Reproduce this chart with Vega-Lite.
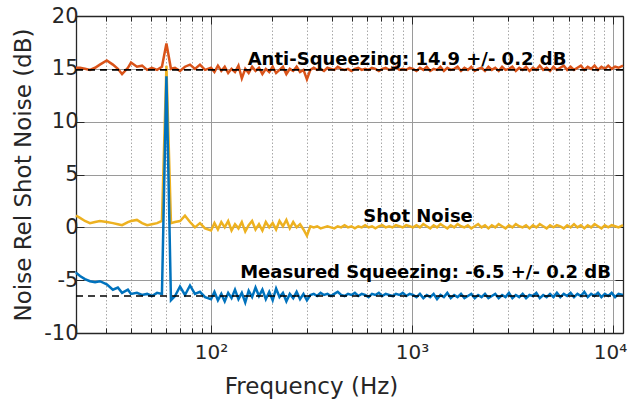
{
  "$schema": "https://vega.github.io/schema/vega-lite/v6.json",
  "width": 547,
  "height": 317,
  "autosize": "none",
  "padding": {"left": 76, "top": 16, "right": 6, "bottom": 67},
  "background": "white",
  "config": {"view": {"stroke": null}, "font": "DejaVu Sans"},
  "datasets": {
    "noise": [
      {"f": 21.3, "a": 15.1, "s": 1.1, "q": -4.3},
      {"f": 22.3, "a": 15.1, "s": 0.9, "q": -4.6},
      {"f": 23.6, "a": 15.0, "s": 0.6, "q": -4.9},
      {"f": 25.0, "a": 14.9, "s": 0.4, "q": -5.1},
      {"f": 26.5, "a": 15.1, "s": 0.5, "q": -5.2},
      {"f": 28.0, "a": 15.4, "s": 0.6, "q": -5.1},
      {"f": 30.3, "a": 15.8, "s": 0.5, "q": -5.4},
      {"f": 32.5, "a": 15.4, "s": 0.4, "q": -5.9},
      {"f": 34.4, "a": 15.0, "s": 0.3, "q": -5.7},
      {"f": 36.1, "a": 14.5, "s": 0.2, "q": -6.2},
      {"f": 38.6, "a": 15.1, "s": 0.5, "q": -5.9},
      {"f": 40.0, "a": 15.6, "s": 0.6, "q": -6.3},
      {"f": 42.8, "a": 15.2, "s": 0.7, "q": -6.2},
      {"f": 45.4, "a": 15.3, "s": 0.4, "q": -6.4},
      {"f": 48.1, "a": 14.9, "s": 0.2, "q": -6.3},
      {"f": 50.8, "a": 15.1, "s": 0.3, "q": -6.5},
      {"f": 53.9, "a": 14.9, "s": 0.4, "q": -6.2},
      {"f": 57.0, "a": 15.2, "s": 0.6, "q": -6.3},
      {"f": 60.0, "a": 17.4, "s": 15.3, "q": 14.3},
      {"f": 63.2, "a": 15.0, "s": 0.4, "q": -6.9},
      {"f": 66.2, "a": 15.1, "s": 0.5, "q": -6.5},
      {"f": 70.1, "a": 14.8, "s": 0.6, "q": -5.6},
      {"f": 74.2, "a": 15.2, "s": 1.1, "q": -6.4},
      {"f": 78.6, "a": 15.4, "s": 0.5, "q": -5.5},
      {"f": 83.2, "a": 15.0, "s": 0.0, "q": -6.3},
      {"f": 88.1, "a": 15.4, "s": 0.4, "q": -6.1},
      {"f": 93.4, "a": 14.9, "s": -0.1, "q": -6.6},
      {"f": 100, "a": 15.1, "s": -0.3, "q": -6.8},
      {"f": 104, "a": 14.7, "s": 0.4, "q": -6.1},
      {"f": 108.2, "a": 15.3, "s": -0.2, "q": -6.9},
      {"f": 112.5, "a": 14.8, "s": 0.5, "q": -6.3},
      {"f": 117, "a": 15.2, "s": 0.0, "q": -7.0},
      {"f": 121.7, "a": 14.6, "s": 0.6, "q": -6.2},
      {"f": 126.5, "a": 15.0, "s": -0.3, "q": -6.7},
      {"f": 131.6, "a": 14.7, "s": 0.3, "q": -5.9},
      {"f": 136.9, "a": 15.3, "s": -0.1, "q": -6.8},
      {"f": 142.3, "a": 14.1, "s": 0.5, "q": -6.2},
      {"f": 148, "a": 15.0, "s": -0.4, "q": -7.1},
      {"f": 153.9, "a": 14.6, "s": 0.2, "q": -6.0},
      {"f": 160.1, "a": 15.2, "s": 0.6, "q": -6.6},
      {"f": 166.5, "a": 14.8, "s": -0.2, "q": -5.7},
      {"f": 173.2, "a": 15.1, "s": 0.3, "q": -6.5},
      {"f": 180.1, "a": 14.5, "s": -0.3, "q": -5.9},
      {"f": 187.3, "a": 15.0, "s": 0.5, "q": -6.8},
      {"f": 194.8, "a": 14.7, "s": 0.0, "q": -6.1},
      {"f": 202.6, "a": 15.2, "s": 0.4, "q": -6.9},
      {"f": 210.7, "a": 14.6, "s": -0.2, "q": -5.8},
      {"f": 219.1, "a": 14.9, "s": 0.6, "q": -6.6},
      {"f": 227.9, "a": 15.2, "s": 0.1, "q": -6.2},
      {"f": 237, "a": 14.5, "s": 0.7, "q": -7.0},
      {"f": 246.5, "a": 15.0, "s": -0.1, "q": -6.3},
      {"f": 256.3, "a": 14.8, "s": 0.5, "q": -6.7},
      {"f": 266.6, "a": 15.2, "s": 0.0, "q": -6.1},
      {"f": 277.2, "a": 14.7, "s": 0.3, "q": -6.8},
      {"f": 288.3, "a": 14.9, "s": -0.2, "q": -6.3},
      {"f": 299.9, "a": 14.0, "s": -0.8, "q": -6.9},
      {"f": 311.9, "a": 14.9, "s": 0.1, "q": -6.4},
      {"f": 324.3, "a": 15.1, "s": 0.0, "q": -6.3},
      {"f": 337.3, "a": 14.9, "s": 0.1, "q": -6.5},
      {"f": 350.8, "a": 15.0, "s": -0.1, "q": -6.2},
      {"f": 364.8, "a": 14.8, "s": 0.0, "q": -6.4},
      {"f": 379.4, "a": 15.1, "s": 0.1, "q": -6.3},
      {"f": 394.6, "a": 15.0, "s": 0.0, "q": -6.5},
      {"f": 410.4, "a": 14.9, "s": -0.1, "q": -6.3},
      {"f": 426.8, "a": 15.2, "s": 0.1, "q": -6.1},
      {"f": 443.9, "a": 15.0, "s": 0.0, "q": -6.4},
      {"f": 461.6, "a": 14.9, "s": 0.2, "q": -6.5},
      {"f": 480.1, "a": 15.0, "s": 0.0, "q": -6.3},
      {"f": 499.3, "a": 14.8, "s": 0.1, "q": -6.4},
      {"f": 519.3, "a": 15.0, "s": -0.1, "q": -6.2},
      {"f": 540.1, "a": 15.1, "s": 0.1, "q": -6.5},
      {"f": 561.7, "a": 14.9, "s": 0.0, "q": -6.3},
      {"f": 584.1, "a": 15.0, "s": 0.2, "q": -6.4},
      {"f": 607.5, "a": 14.9, "s": 0.0, "q": -6.6},
      {"f": 631.8, "a": 15.1, "s": 0.1, "q": -6.3},
      {"f": 657.1, "a": 15.0, "s": -0.1, "q": -6.4},
      {"f": 683.4, "a": 14.8, "s": 0.1, "q": -6.2},
      {"f": 710.7, "a": 15.0, "s": 0.2, "q": -6.5},
      {"f": 739.1, "a": 15.1, "s": 0.0, "q": -6.3},
      {"f": 768.7, "a": 14.9, "s": 0.1, "q": -6.4},
      {"f": 799.4, "a": 15.0, "s": 0.0, "q": -6.5},
      {"f": 831.4, "a": 15.2, "s": 0.2, "q": -6.3},
      {"f": 864.7, "a": 14.9, "s": 0.1, "q": -6.4},
      {"f": 899.2, "a": 15.0, "s": 0.0, "q": -6.2},
      {"f": 935.2, "a": 14.9, "s": 0.2, "q": -6.5},
      {"f": 972.6, "a": 15.1, "s": 0.1, "q": -6.3},
      {"f": 1011.5, "a": 15.0, "s": 0.0, "q": -6.4},
      {"f": 1052, "a": 14.8, "s": 0.2, "q": -6.6},
      {"f": 1094, "a": 15.1, "s": 0.0, "q": -6.3},
      {"f": 1137.8, "a": 14.9, "s": 0.3, "q": -6.7},
      {"f": 1183.3, "a": 15.2, "s": 0.1, "q": -6.4},
      {"f": 1230.7, "a": 14.8, "s": -0.1, "q": -6.6},
      {"f": 1279.9, "a": 15.0, "s": 0.2, "q": -6.3},
      {"f": 1331.1, "a": 14.9, "s": 0.0, "q": -6.8},
      {"f": 1384.3, "a": 15.2, "s": 0.3, "q": -6.4},
      {"f": 1439.7, "a": 14.8, "s": 0.1, "q": -6.6},
      {"f": 1497.3, "a": 15.1, "s": -0.1, "q": -6.2},
      {"f": 1557.2, "a": 14.9, "s": 0.2, "q": -6.7},
      {"f": 1619.5, "a": 15.0, "s": 0.0, "q": -6.4},
      {"f": 1684.3, "a": 15.2, "s": 0.3, "q": -6.6},
      {"f": 1751.6, "a": 14.8, "s": 0.1, "q": -6.3},
      {"f": 1821.7, "a": 15.1, "s": 0.0, "q": -6.7},
      {"f": 1894.6, "a": 14.9, "s": 0.2, "q": -6.5},
      {"f": 1970.4, "a": 15.2, "s": -0.1, "q": -6.3},
      {"f": 2049.2, "a": 14.8, "s": 0.1, "q": -6.7},
      {"f": 2131.2, "a": 15.0, "s": 0.3, "q": -6.4},
      {"f": 2216.4, "a": 15.1, "s": 0.0, "q": -6.6},
      {"f": 2305.1, "a": 14.8, "s": 0.2, "q": -6.3},
      {"f": 2397.3, "a": 15.2, "s": -0.1, "q": -6.7},
      {"f": 2493.2, "a": 14.9, "s": 0.2, "q": -6.5},
      {"f": 2592.9, "a": 15.1, "s": 0.0, "q": -6.3},
      {"f": 2696.6, "a": 14.8, "s": 0.3, "q": -6.7},
      {"f": 2804.5, "a": 15.2, "s": 0.1, "q": -6.4},
      {"f": 2916.7, "a": 14.9, "s": -0.1, "q": -6.6},
      {"f": 3033.3, "a": 15.0, "s": 0.2, "q": -6.2},
      {"f": 3154.7, "a": 15.2, "s": 0.0, "q": -6.7},
      {"f": 3280.9, "a": 14.8, "s": 0.3, "q": -6.4},
      {"f": 3412.1, "a": 15.1, "s": 0.1, "q": -6.6},
      {"f": 3548.6, "a": 14.9, "s": 0.0, "q": -6.3},
      {"f": 3690.5, "a": 15.2, "s": 0.2, "q": -6.7},
      {"f": 3838.1, "a": 14.8, "s": -0.1, "q": -6.4},
      {"f": 3991.6, "a": 15.1, "s": 0.2, "q": -6.5},
      {"f": 4151.3, "a": 14.9, "s": 0.0, "q": -6.2},
      {"f": 4317.4, "a": 15.3, "s": 0.3, "q": -6.7},
      {"f": 4490.1, "a": 14.9, "s": 0.1, "q": -6.4},
      {"f": 4669.7, "a": 15.1, "s": -0.1, "q": -6.6},
      {"f": 4856.5, "a": 14.8, "s": 0.2, "q": -6.3},
      {"f": 5050.7, "a": 15.2, "s": 0.0, "q": -6.6},
      {"f": 5252.7, "a": 14.9, "s": 0.2, "q": -6.2},
      {"f": 5462.8, "a": 15.1, "s": 0.1, "q": -6.6},
      {"f": 5681.4, "a": 15.3, "s": -0.1, "q": -6.3},
      {"f": 5908.6, "a": 14.9, "s": 0.2, "q": -6.5},
      {"f": 6144.9, "a": 15.2, "s": 0.0, "q": -6.2},
      {"f": 6390.7, "a": 14.9, "s": 0.3, "q": -6.6},
      {"f": 6646.4, "a": 15.1, "s": 0.0, "q": -6.3},
      {"f": 6912.2, "a": 15.3, "s": 0.2, "q": -6.5},
      {"f": 7188.7, "a": 14.9, "s": -0.1, "q": -6.1},
      {"f": 7476.3, "a": 15.2, "s": 0.2, "q": -6.6},
      {"f": 7775.3, "a": 15.0, "s": 0.0, "q": -6.3},
      {"f": 8086.3, "a": 15.3, "s": 0.3, "q": -6.5},
      {"f": 8409.8, "a": 14.9, "s": 0.1, "q": -6.2},
      {"f": 8746.2, "a": 15.2, "s": -0.1, "q": -6.6},
      {"f": 9096, "a": 15.0, "s": 0.2, "q": -6.3},
      {"f": 9459.9, "a": 15.3, "s": 0.0, "q": -6.5},
      {"f": 9838.3, "a": 15.0, "s": 0.2, "q": -6.2},
      {"f": 10231.8, "a": 15.2, "s": 0.1, "q": -6.6},
      {"f": 10641.1, "a": 15.1, "s": 0.0, "q": -6.3},
      {"f": 11200, "a": 15.3, "s": 0.2, "q": -6.4}
    ],
    "levels": [{"lvl": 14.9}, {"lvl": -6.5}],
    "notes": [
      {"f": 944, "y": 15.35, "label": "Anti-Squeezing: 14.9 +/- 0.2 dB"},
      {"f": 1071, "y": 0.54, "label": "Shot Noise"},
      {"f": 1167, "y": -4.8, "label": "Measured Squeezing: -6.5 +/- 0.2 dB"}
    ]
  },
  "resolve": {"axis": {"x": "independent", "y": "independent"}},
  "layer": [
    {
      "data": {"name": "noise"},
      "mark": {"type": "line", "color": "#EDB120", "strokeWidth": 2.5},
      "encoding": {
        "x": {
          "field": "f", "type": "quantitative",
          "scale": {"type": "log", "domain": [21.3, 11200], "nice": false},
          "axis": {
            "orient": "bottom",
            "title": "Frequency (Hz)",
            "titleFontSize": 23, "titleFontWeight": "normal", "titleColor": "#262626", "titlePadding": 10,
            "titleX": 235, "titleAlign": "center",
            "values": [30,40,50,60,70,80,90,100,200,300,400,500,600,700,800,900,1000,2000,3000,4000,5000,6000,7000,8000,9000,10000],
            "labelExpr": "datum.value == 100 ? '10²' : datum.value == 1000 ? '10³' : datum.value == 10000 ? '10⁴' : ''",
            "labelFontSize": 20, "labelColor": "#262626", "labelPadding": 17, "labelOverlap": false, "labelFlush": false,
            "labelOffset": {"condition": {"test": "datum.value == 10000", "value": -3}, "value": 0},
            "grid": true,
            "gridColor": {"condition": {"test": "abs(log(datum.value)/LN10 - round(log(datum.value)/LN10)) < 0.01", "value": "#9a9a9a"}, "value": "#a8a8a8"},
            "gridDash": {"condition": {"test": "abs(log(datum.value)/LN10 - round(log(datum.value)/LN10)) < 0.01", "value": []}, "value": [1.5, 2]},
            "gridWidth": 1,
            "tickSize": {"condition": {"test": "abs(log(datum.value)/LN10 - round(log(datum.value)/LN10)) < 0.01", "value": -8}, "value": -5},
            "tickColor": "#262626", "tickWidth": 1,
            "domainColor": "#262626", "domainWidth": 1.3
          }
        },
        "y": {
          "field": "s", "type": "quantitative",
          "scale": {"domain": [-10, 20], "nice": false, "zero": false},
          "axis": {
            "orient": "left",
            "title": "Noise Rel Shot Noise (dB)",
            "titleFontSize": 23, "titleFontWeight": "normal", "titleColor": "#262626", "titlePadding": 8,
            "values": [-10, -5, 0, 5, 10, 15, 20],
            "labelExpr": "'' + datum.value",
            "labelFontSize": 21, "labelColor": "#262626", "labelPadding": 6, "labelFlush": false,
            "grid": true, "gridColor": "#9a9a9a", "gridWidth": 1,
            "tickSize": -8, "tickColor": "#262626",
            "domainColor": "#262626", "domainWidth": 1.3
          }
        }
      }
    },
    {
      "data": {"name": "noise"},
      "mark": {"type": "line", "color": "#0072BD", "strokeWidth": 2.5},
      "encoding": {
        "x": {"field": "f", "type": "quantitative", "scale": {"type": "log", "domain": [21.3, 11200], "nice": false}, "axis": null},
        "y": {"field": "q", "type": "quantitative", "scale": {"domain": [-10, 20], "nice": false, "zero": false}, "axis": null}
      }
    },
    {
      "data": {"name": "noise"},
      "mark": {"type": "line", "color": "#D95319", "strokeWidth": 2.5},
      "encoding": {
        "x": {"field": "f", "type": "quantitative", "scale": {"type": "log", "domain": [21.3, 11200], "nice": false}, "axis": null},
        "y": {"field": "a", "type": "quantitative", "scale": {"domain": [-10, 20], "nice": false, "zero": false}, "axis": null}
      }
    },
    {
      "data": {"name": "levels"},
      "mark": {"type": "rule", "color": "#000000", "strokeWidth": 1.6, "strokeDash": [7, 5]},
      "encoding": {
        "y": {"field": "lvl", "type": "quantitative", "scale": {"domain": [-10, 20], "nice": false, "zero": false}, "axis": null}
      }
    },
    {
      "data": {"name": "notes"},
      "mark": {"type": "text", "font": "DejaVu Sans", "fontWeight": "bold", "fontSize": 18, "color": "#000000", "align": "center", "baseline": "alphabetic"},
      "encoding": {
        "x": {
          "field": "f", "type": "quantitative",
          "scale": {"type": "log", "domain": [21.3, 11200], "nice": false},
          "axis": {
            "orient": "top", "title": null, "labels": false, "grid": false,
            "values": [30,40,50,60,70,80,90,100,200,300,400,500,600,700,800,900,1000,2000,3000,4000,5000,6000,7000,8000,9000,10000],
            "tickSize": {"condition": {"test": "abs(log(datum.value)/LN10 - round(log(datum.value)/LN10)) < 0.01", "value": -8}, "value": -5},
            "tickColor": "#262626", "domainColor": "#262626", "domainWidth": 1.3
          }
        },
        "y": {
          "field": "y", "type": "quantitative",
          "scale": {"domain": [-10, 20], "nice": false, "zero": false},
          "axis": {
            "orient": "right", "title": null, "labels": false, "grid": false,
            "values": [-10, -5, 0, 5, 10, 15, 20],
            "tickSize": -8, "tickColor": "#262626", "domainColor": "#262626", "domainWidth": 1.3
          }
        },
        "text": {"field": "label", "type": "nominal"}
      }
    }
  ]
}
